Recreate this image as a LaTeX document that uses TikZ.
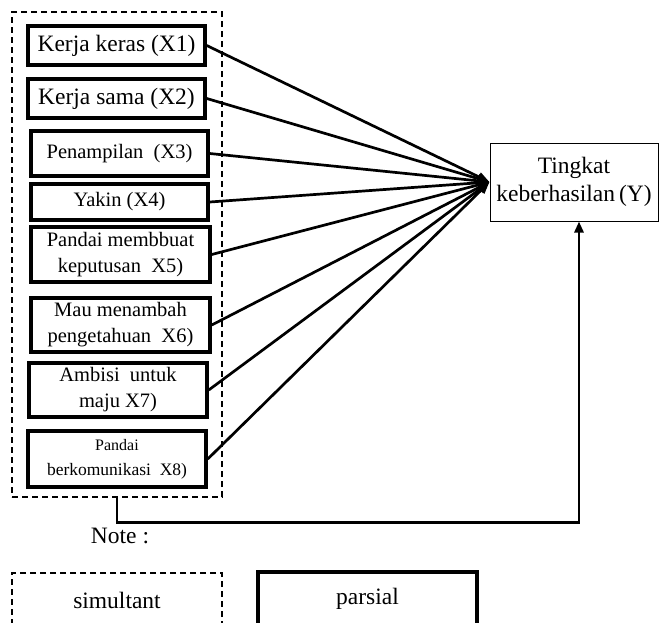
\documentclass[tikz,border=0pt]{standalone}
\usepackage{fontspec}
\setmainfont{Liberation Serif}
\usetikzlibrary{arrows.meta}
\tikzset{
  varbox/.style={draw, line width=3.5pt, rectangle, inner sep=0pt, align=center},
  thinbox/.style={draw, line width=1pt, rectangle, inner sep=0pt, align=center},
  dashbox/.style={draw, line width=1.3pt, dash pattern=on 6pt off 4pt, rectangle, inner sep=0pt, align=center},
  conn/.style={line width=2.7pt, -{Triangle[length=12pt,width=9pt]}},
  big/.style={font=\fontsize{23.5}{28}\selectfont},
  mid/.style={font=\fontsize{20.5}{26}\selectfont},
}
\begin{document}
\begin{tikzpicture}[x=1pt,y=-1pt]
\useasboundingbox (0,0) rectangle (659,622);
\clip (0,0) rectangle (659,622);
\node[dashbox, minimum width=210pt, minimum height=485pt] (outer) at (117,254.5) {};
\node[varbox, big, minimum width=177pt, minimum height=39pt] (x1) at (116.5,45.5) {Kerja keras (X1)};
\node[varbox, big, minimum width=177pt, minimum height=39pt] (x2) at (116.5,98.5) {Kerja sama (X2)};
\node[varbox, mid, minimum width=177pt, minimum height=45pt] (x3) at (119.5,153.5) {Penampilan\ \ (X3)};
\node[varbox, mid, minimum width=177pt, minimum height=36pt] (x4) at (119.5,202) {Yakin (X4)};
\node[varbox, mid, minimum width=179pt, minimum height=55pt] (x5) at (120.5,254.5) {Pandai membbuat\\keputusan\ \ X5)};
\node[varbox, mid, minimum width=179pt, minimum height=54pt] (x6) at (120.5,325) {Mau menambah\\pengetahuan\ \ X6)};
\node[varbox, mid, minimum width=178pt, minimum height=54pt] (x7) at (118,390) {Ambisi\ \ untuk\\maju X7)};
\node[varbox, minimum width=178pt, minimum height=56pt, font=\fontsize{17.5}{25}\selectfont] (x8) at (117,459) {{\fontsize{16}{25}\selectfont Pandai}\\berkomunikasi\ \ X8)};
\node[thinbox, big, minimum width=168pt, minimum height=78pt] (y) at (574,182) {Tingkat\\keberhasilan\,(Y)};
\foreach \i in {1,...,8} {
  \draw[conn] (x\i.east) -- (y.west);
}
\draw[line width=2.7pt, -{Triangle[length=11pt,width=9pt]}] (outer.south) -- ++(0,25) -| ([xshift=5pt]y.south);
\node[big] (note) at (120,536) {Note :};
\node[dashbox, big, minimum width=210pt, minimum height=54pt] (sim) at (117,600) {simultant};
\node[varbox, big, minimum width=219pt, minimum height=53pt] (par) at (367.5,598.5) {parsial};
\end{tikzpicture}
\end{document}
